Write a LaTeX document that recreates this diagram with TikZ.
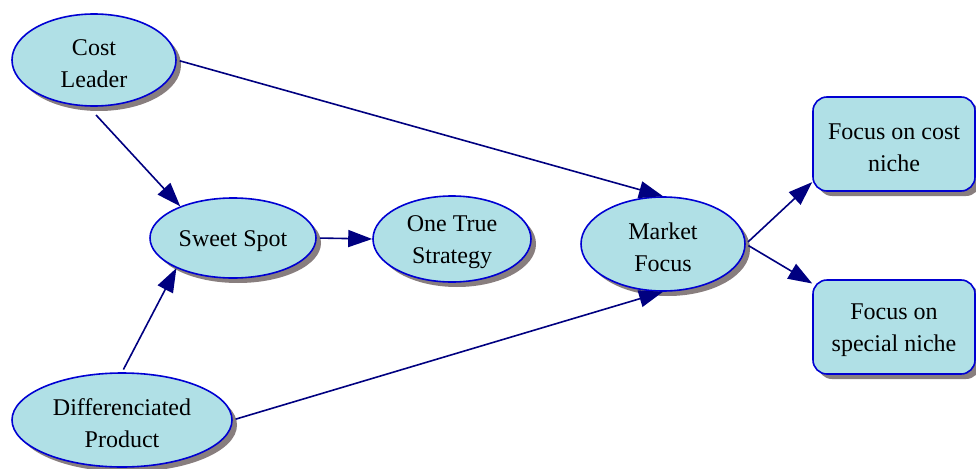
\documentclass[tikz,border=0pt]{standalone}
\usepackage{fontspec}
\setmainfont{Liberation Serif}
\usetikzlibrary{shapes.geometric,shadows,arrows.meta}
\definecolor{nodefill}{RGB}{176,224,230}
\definecolor{nodeborder}{RGB}{0,0,210}
\definecolor{edgecol}{RGB}{0,0,128}
\definecolor{shadowcol}{RGB}{136,126,126}
\newcommand{\topstrut}{\rule{0pt}{23pt}}
\tikzset{
  shad/.style={drop shadow={shadow xshift=5pt,shadow yshift=-5pt,fill=shadowcol,opacity=1}},
  ell/.style={ellipse,draw=nodeborder,line width=1.6pt,fill=nodefill,shad,inner sep=0pt,align=center,
    font=\fontsize{24}{32}\selectfont},
  box/.style={rectangle,rounded corners=14pt,draw=nodeborder,line width=1.6pt,fill=nodefill,shad,inner sep=0pt,
    align=center,minimum width=162pt,minimum height=94pt,font=\fontsize{24}{32}\selectfont},
  edge/.style={draw=edgecol,line width=1.6pt,-{Triangle[length=24pt,width=17pt]},shorten <=3pt}
}
\begin{document}
\begin{tikzpicture}[x=1pt,y=-1pt]
\useasboundingbox (0,0) rectangle (976,468);
\node[ell,minimum width=164pt,minimum height=92pt] (CL) at (94,60) {\topstrut Cost\\Leader};
\node[ell,minimum width=166pt,minimum height=80pt] (SS) at (233,238) {\topstrut Sweet Spot};
\node[ell,minimum width=158pt,minimum height=86pt] (OT) at (452,239) {\topstrut One True\\Strategy};
\node[ell,minimum width=164pt,minimum height=94pt] (MF) at (663,244) {\topstrut Market\\Focus};
\node[ell,minimum width=220pt,minimum height=94pt] (DP) at (122,420) {\topstrut Differenciated\\Product};
\node[box] (FC) at (894,144) {\topstrut Focus on cost\\niche};
\node[box] (FS) at (894,327) {\topstrut Focus on\\special niche};
\draw[edge] (CL.south) ++(0,-6pt) coordinate (cls) (cls) -- (SS.149);
\draw[edge] (CL.east) -- (MF.north);
\draw[edge] (DP.north) -- (SS.208);
\draw[edge] (DP.east) -- (MF.south);
\draw[edge] (SS.east) -- (OT.west);
\draw[edge] (MF.east) -- (FC.205);
\draw[edge] (MF.east) -- (FS.152);
\end{tikzpicture}
\end{document}
